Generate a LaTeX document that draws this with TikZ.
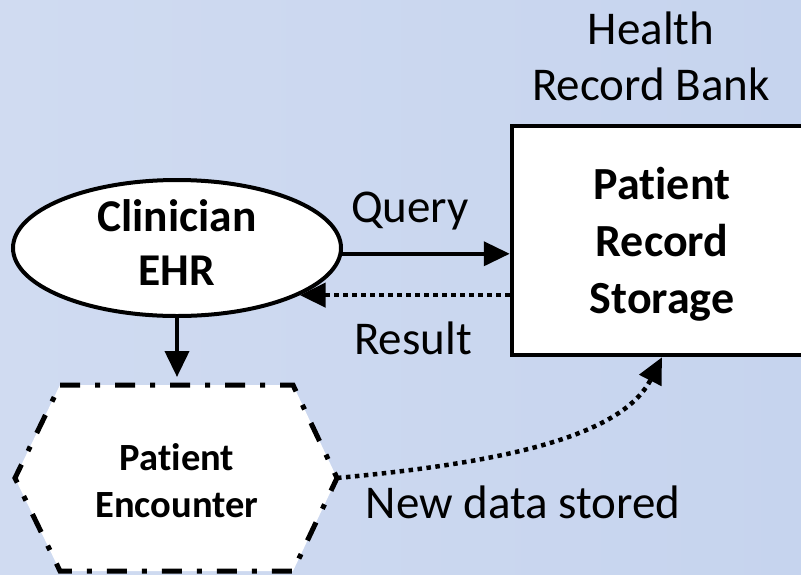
\documentclass[tikz,border=0pt]{standalone}
\usepackage{fontspec}
\setmainfont[Ligatures=NoCommon]{Carlito}
\usetikzlibrary{arrows.meta,shapes.geometric}
\definecolor{bgl}{RGB}{208,219,241}
\definecolor{bgm}{RGB}{193,208,236}
\definecolor{bgr}{RGB}{198,212,238}
\tikzset{
  bigtxt/.style={font=\fontsize{47}{56}\selectfont, align=center},
  boldtxt/.style={font=\bfseries\fontsize{45.5}{54}\selectfont, align=center},
  boldtxtb/.style={font=\bfseries\fontsize{46}{57}\selectfont, align=center},
  smalltxt/.style={font=\bfseries\fontsize{38.5}{47}\selectfont, align=center},
  tipa/.style={-{Triangle[length=26pt,width=24pt]}},
  solidarrow/.style={tipa, line width=4pt},
  dotarrow/.style={tipa, line width=4.5pt, dash pattern=on 4.5pt off 4.5pt},
  hexline/.style={line width=5pt, dash pattern=on 20pt off 15pt on 5pt off 15pt}
}
\begin{document}
\begin{tikzpicture}[x=1pt,y=-1pt]
\useasboundingbox (0,0) rectangle (801,574);
\shade[left color=bgl, middle color=bgm, right color=bgr] (0,0) rectangle (801,574);

% hexagon
\coordinate (h1) at (60,385);
\coordinate (h2) at (293,385);
\coordinate (h3) at (337,478);
\coordinate (h4) at (293,571);
\coordinate (h5) at (60,571);
\coordinate (h6) at (15,478);
\fill[white] (h1) -- (h2) -- (h3) -- (h4) -- (h5) -- (h6) -- cycle;
\draw[hexline] (h1) -- (h2) -- (h3) -- (h4) -- (h5) -- (h6) -- cycle;
\node[smalltxt] (pe) at (177,481) {Patient\\Encounter};
\coordinate (htop) at (177,385);

% ellipse
\node[ellipse, draw, line width=4pt, fill=white, minimum width=328pt,
      minimum height=136pt, inner sep=0pt] (ehr) at (177,248) {};
\node[boldtxt] (ehrt) at (177,243) {Clinician\\EHR};

% rectangle
\node[draw, line width=4.5pt, fill=white, minimum width=300pt,
      minimum height=229pt, inner sep=0pt] (rsb) at (662,240.5) {};
\node[boldtxtb] (rsbt) at (662,244.5) {Patient\\Record\\Storage};

\node[bigtxt] (hrb) at (651,56) {Health\\Record Bank};

% arrows
\coordinate (eq) at (ehr.-2);
\draw[solidarrow] (eq) -- (rsb.west |- eq);
\coordinate (er) at (ehr.-21.6);
\draw[dotarrow] (rsb.west |- er) -- (er);
\draw[solidarrow] (ehr.south) -- ([yshift=8pt]htop);
\draw[dotarrow] (h3) .. controls (488,464) and (620,440) .. (rsb.south);

\node[bigtxt] (lq) at (410,211) {Query};
\node[bigtxt] (lr) at (413,338) {Result};
\node[bigtxt] (ln) at (523,502) {New data stored};
\end{tikzpicture}
\end{document}
